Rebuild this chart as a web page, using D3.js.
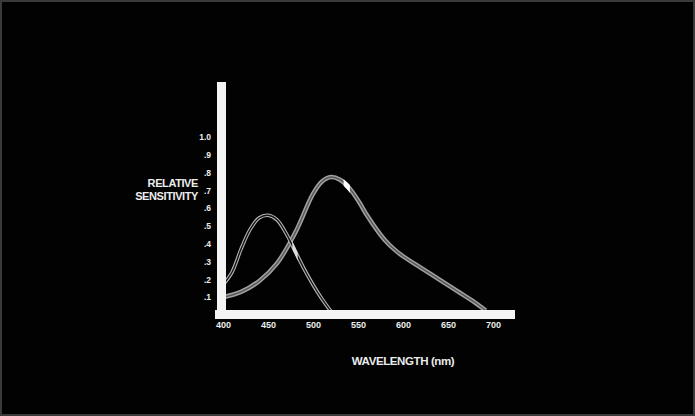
<!DOCTYPE html>
<html>
<head>
<meta charset="utf-8">
<script src="https://cdn.jsdelivr.net/npm/d3@7"></script>
<style>
  body { margin: 0; background: #000; }
  .chart text { font-family: "Liberation Sans", Arial, sans-serif; fill: #ececec; }
</style>
</head>
<body>
<script>
(function(){

//wavelength ticks and sensitivity ticks
var xTicks = [400, 450, 500, 550, 600, 650, 700];
var yTicks = [0.1, 0.2, 0.3, 0.4, 0.5, 0.6, 0.7, 0.8, 0.9, 1.0];

//short wavelength curve
var blueNm  = [400, 410, 420, 430, 440, 450, 460, 470, 480, 490, 500, 510, 520];
var blueVal = [0.17, 0.24, 0.37, 0.48, 0.545, 0.56, 0.535, 0.46, 0.36, 0.26, 0.17, 0.09, 0.02];

//long wavelength curve
var greenNm  = [400, 420, 440, 460, 480, 500, 510, 520, 530, 540, 550, 560, 570, 580, 590, 600, 620, 640, 660, 680, 692];
var greenVal = [0.10, 0.13, 0.19, 0.29, 0.46, 0.68, 0.75, 0.775, 0.76, 0.715, 0.645, 0.56, 0.485, 0.42, 0.37, 0.33, 0.265, 0.2, 0.135, 0.07, 0.025];

window.onload = drawChart();

function drawChart(){
    var width = 695,
        height = 416;

    var svg = d3.select("body")
      .append("svg")
      .attr("class", "chart")
      .attr("width", width)
      .attr("height", height);

    //background with faint frame
    svg.append("rect")
      .attr("width", width)
      .attr("height", height)
      .attr("fill", "#020202");
    svg.append("rect")
      .attr("x", 1).attr("y", 1)
      .attr("width", width - 2)
      .attr("height", height - 2)
      .attr("fill", "none")
      .attr("stroke", "#3a3a3a")
      .attr("stroke-width", 2);

    var x = d3.scaleLinear().domain([400, 700]).range([223, 493]);
    var y = d3.scaleLinear().domain([0, 1]).range([315, 137]);

    var line = d3.line()
      .x(function(d){ return x(d[0]); })
      .y(function(d){ return y(d[1]); })
      .curve(d3.curveCatmullRom.alpha(0.5));

    var blue = d3.zip(blueNm, blueVal),
        green = d3.zip(greenNm, greenVal);

    //highlight clips
    var defs = svg.append("defs");
    addClip(defs, "hiGreen", x(534), x(541));
    addClip(defs, "hiBlue", x(477), x(483));

    //green curve: wide grey band
    drawTube(svg, green, line, "#a0a0a0", 4.5, "#555", 1.4);
    //blue curve: double thin line
    drawTube(svg, blue, line, "#b5b5b5", 3.6, "#141414", 1.4);

    svg.append("path")
      .datum(green)
      .attr("d", line)
      .attr("clip-path", "url(#hiGreen)")
      .attr("fill", "none")
      .attr("stroke", "#fff")
      .attr("stroke-width", 5);
    svg.append("path")
      .datum(blue)
      .attr("d", line)
      .attr("clip-path", "url(#hiBlue)")
      .attr("fill", "none")
      .attr("stroke", "#ddd")
      .attr("stroke-width", 3.5);

    //white axis bars
    svg.append("rect")
      .attr("x", 217).attr("y", 82)
      .attr("width", 9).attr("height", 237)
      .attr("fill", "#f4f4f4");
    svg.append("rect")
      .attr("x", 215).attr("y", 310)
      .attr("width", 300).attr("height", 9)
      .attr("fill", "#f4f4f4");

    //x tick labels
    var xAxis = svg.append("g")
      .attr("transform", "translate(0,320)")
      .call(d3.axisBottom(x).tickValues(xTicks).tickSize(0).tickPadding(2));
    xAxis.select(".domain").remove();
    xAxis.selectAll("text")
      .attr("font-size", 9)
      .attr("font-weight", "bold")
      .attr("fill", "#ececec");

    //y tick labels
    var yAxis = svg.append("g")
      .attr("transform", "translate(211,0)")
      .call(d3.axisLeft(y).tickValues(yTicks).tickSize(0).tickPadding(0)
        .tickFormat(function(d){ return d === 1 ? "1.0" : d3.format(".1f")(d).replace(/^0/, ""); }));
    yAxis.select(".domain").remove();
    yAxis.selectAll("text")
      .attr("font-size", 8.5)
      .attr("font-weight", "bold")
      .attr("fill", "#ececec");

    //axis titles
    svg.append("text")
      .attr("x", 198).attr("y", 187)
      .attr("text-anchor", "end")
      .attr("font-size", 11)
      .attr("font-weight", "bold")
      .attr("letter-spacing", -0.4)
      .text("RELATIVE");
    svg.append("text")
      .attr("x", 198).attr("y", 200)
      .attr("text-anchor", "end")
      .attr("font-size", 11)
      .attr("font-weight", "bold")
      .attr("letter-spacing", -0.4)
      .text("SENSITIVITY");
    svg.append("text")
      .attr("x", 403).attr("y", 365)
      .attr("text-anchor", "middle")
      .attr("font-size", 11.5)
      .attr("font-weight", "bold")
      .attr("letter-spacing", -0.4)
      .text("WAVELENGTH (nm)");
};

function drawTube(svg, data, line, outer, outerW, inner, innerW){
  svg.append("path")
    .datum(data)
    .attr("d", line)
    .attr("fill", "none")
    .attr("stroke", outer)
    .attr("stroke-width", outerW);
  svg.append("path")
    .datum(data)
    .attr("d", line)
    .attr("fill", "none")
    .attr("stroke", inner)
    .attr("stroke-width", innerW);
};

function addClip(defs, id, x0, x1){
  defs.append("clipPath")
    .attr("id", id)
    .append("rect")
    .attr("x", x0).attr("y", 0)
    .attr("width", x1 - x0).attr("height", 416);
};

})();
</script>
</body>
</html>
